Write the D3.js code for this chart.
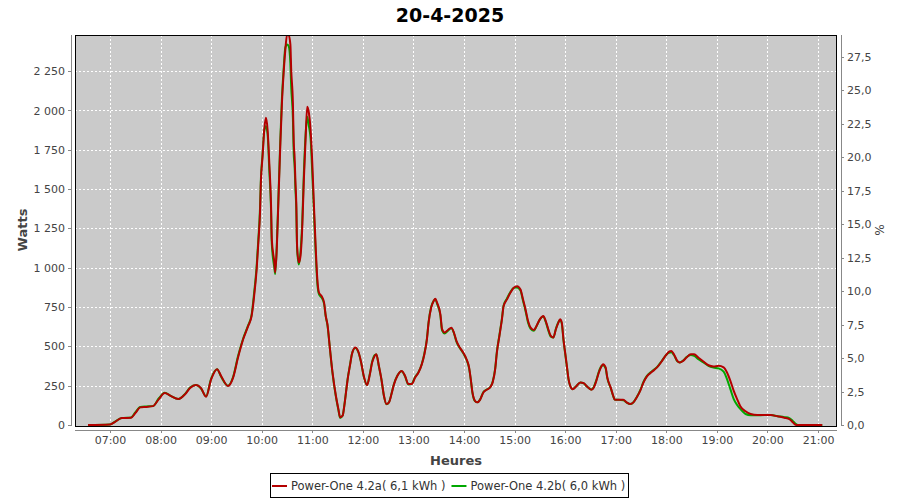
<!DOCTYPE html>
<html><head><meta charset="utf-8">
<script src="https://cdn.jsdelivr.net/npm/d3@7"></script>
<style>
body{margin:0;background:#fff}
svg{display:block}
text{font-family:"DejaVu Sans",sans-serif}
</style>
</head><body>
<svg id="c" width="900" height="500"></svg>
<script>
// ---------- DATA ----------
const chartTitle = "20-4-2025";
const seriesNames = ["Power-One 4.2a( 6,1 kWh )", "Power-One 4.2b( 6,0 kWh )"];
const times = [
"06:34","07:00","07:06","07:14","07:25","07:30","07:36","07:43","07:51","07:58",
"08:05","08:12","08:21","08:29","08:35","08:42","08:48","08:54","09:00","09:07",
"09:12","09:20","09:26","09:32","09:38","09:44","09:48","09:51","09:54","09:56",
"09:58","09:59","10:01","10:03","10:05","10:07","10:09","10:11","10:12","10:15",
"10:16","10:18","10:20","10:22","10:24","10:26","10:28","10:30","10:32","10:34",
"10:35","10:37","10:38","10:39","10:40","10:41","10:42","10:44","10:46","10:48",
"10:50","10:52","10:54","10:56","10:58","11:00","11:02","11:04","11:06","11:08",
"11:11","11:14","11:16","11:18","11:21","11:24","11:28","11:31","11:33","11:36",
"11:38","11:40","11:42","11:45","11:47","11:51","11:55","11:58","12:01","12:05",
"12:08","12:11","12:14","12:16","12:19","12:22","12:25","12:28","12:31","12:34",
"12:37","12:41","12:46","12:50","12:54","12:58","13:02","13:06","13:10","13:13",
"13:16","13:18","13:21","13:24","13:26","13:28","13:32","13:34","13:37","13:41",
"13:45","13:48","13:51","13:55","13:59","14:03","14:06","14:08","14:10","14:13",
"14:16","14:19","14:23","14:27","14:31","14:34","14:37","14:39","14:42","14:45",
"14:47","14:51","14:55","14:59","15:03","15:07","15:10","15:13","15:16","15:19",
"15:23","15:26","15:30","15:34","15:37","15:40","15:43","15:46","15:49","15:52",
"15:54","15:56","15:58","16:00","16:02","16:04","16:06","16:09","16:13","16:18",
"16:22","16:26","16:31","16:34","16:37","16:40","16:43","16:45","16:48","16:50",
"16:54","16:57","16:59","17:03","17:09","17:13","17:17","17:21","17:25","17:29",
"17:33","17:37","17:43","17:49","17:55","17:59","18:03","18:06","18:09","18:13",
"18:16","18:20","18:24","18:29","18:33","18:38","18:44","18:50","18:56","19:02",
"19:08","19:12","19:16","19:20","19:24","19:28","19:34","19:40","19:48","19:56",
"20:04","20:12","20:20","20:26","20:30","20:34","20:36","21:05"
];
const powerA = [
0,3,20,44,46,75,112,115,120,165,
203,185,165,195,235,254,235,180,290,355,
310,248,300,431,545,630,693,820,989,1160,
1350,1540,1707,1876,1953,1876,1667,1414,1179,1033,
970,1137,1454,1770,2048,2238,2384,2480,2480,2420,
2257,2048,1800,1707,1550,1414,1137,1033,1073,1243,
1560,1813,2024,1984,1876,1667,1390,1137,926,841,
820,778,693,640,482,334,186,101,49,59,
122,207,292,387,450,493,461,397,313,254,
313,397,439,450,376,292,186,133,144,197,
260,313,344,313,260,260,302,334,387,450,
545,651,746,788,803,778,704,609,588,604,
619,588,535,493,461,418,366,292,207,154,
144,160,207,224,239,271,355,461,566,672,
756,799,841,873,883,862,799,735,661,619,
604,630,672,693,661,609,566,556,609,651,
672,651,545,461,376,292,249,228,245,271,
266,245,224,239,281,334,372,387,366,302,
239,186,160,160,160,144,133,144,176,217,
271,309,338,366,408,439,465,471,450,408,
397,408,429,450,450,429,404,380,372,376,
366,334,281,217,165,118,87,70,63,63,
63,55,46,38,17,0,0,0
];
const powerB = [
0,3,22,44,48,80,115,118,120,170,
205,185,165,198,238,254,232,182,295,355,
305,250,305,440,550,635,700,840,1010,1180,
1380,1560,1720,1870,1900,1850,1620,1380,1150,1000,
960,1160,1480,1800,2080,2260,2400,2420,2410,2300,
2150,1950,1720,1650,1500,1380,1120,1020,1100,1280,
1600,1840,1960,1900,1820,1600,1350,1100,900,830,
810,770,690,635,480,330,180,95,45,60,
125,210,295,390,452,490,458,395,310,255,
318,402,445,448,372,290,185,132,145,200,
262,315,342,310,258,262,305,336,390,455,
550,655,750,790,800,772,695,600,582,600,
615,585,530,490,458,415,362,290,205,152,
144,162,210,226,240,275,360,466,572,678,
760,805,845,872,875,855,790,725,650,612,
600,628,672,690,655,602,562,556,612,655,
668,645,540,455,372,290,248,228,246,270,
264,244,226,242,286,340,375,380,360,298,
236,184,160,160,158,142,133,145,178,220,
275,312,342,368,410,440,460,462,445,405,
398,410,432,445,439,418,398,376,365,360,
340,292,228,165,127,101,70,62,62,63,
63,56,50,44,26,5,0,0
];
const wattTicks = [0,250,500,750,1000,1250,1500,1750,2000,2250];
const pctTicks = [0,2.5,5,7.5,10,12.5,15,17.5,20,22.5,25,27.5];
const hourTicks = ["07:00","08:00","09:00","10:00","11:00","12:00","13:00","14:00","15:00","16:00","17:00","18:00","19:00","20:00","21:00"];
const timeDomain = ["06:18:30","21:22:30"];
const wattDomain = [0, 2480];
const pctDomain = [0, 29.13];
const axisTitles = {y: "Watts", x: "Heures", y2: "%"};

// ---------- CHART ----------
const svg = d3.select("#c");
const L = 75, R = 837, T = 35, B = 426;
const parseHM = d3.timeParse("%H:%M");
const parseHMS = d3.timeParse("%H:%M:%S");
const loc = d3.formatLocale({decimal: ",", thousands: " ", grouping: [3], currency: ["", ""]});

const x = d3.scaleTime().domain(timeDomain.map(parseHMS)).range([L, R]);
const y = d3.scaleLinear().domain(wattDomain).range([B - 1, T]);
const yP = d3.scaleLinear().domain(pctDomain).range([B - 1, T]);

// title
svg.append("text").attr("x", 450).attr("y", 22).attr("text-anchor", "middle")
  .style("font-size", "19px").style("font-weight", "bold").attr("fill", "#000").text(chartTitle);

// plot background
svg.append("rect").attr("x", L).attr("y", T).attr("width", R - L).attr("height", B - T).attr("fill", "#cacaca");

// grid
const grid = svg.append("g").attr("shape-rendering", "crispEdges")
  .attr("stroke", "#fff").attr("stroke-width", 1).attr("stroke-dasharray", "2,2");
grid.selectAll("line.h").data(wattTicks.filter(d => d > 0)).join("line")
  .attr("x1", L).attr("x2", R).attr("y1", d => Math.round(y(d)) + 0.5).attr("y2", d => Math.round(y(d)) + 0.5);
grid.selectAll("line.v").data(hourTicks.map(parseHM)).join("line")
  .attr("y1", T).attr("y2", B).attr("x1", d => Math.round(x(d)) + 0.5).attr("x2", d => Math.round(x(d)) + 0.5);

// clip
svg.append("clipPath").attr("id", "clip").append("rect").attr("x", L).attr("y", T).attr("width", R - L).attr("height", B - T);

const pts = times.map(parseHM);
const line = vals => d3.line().x((d, i) => x(pts[i])).y(d => y(d)).curve(d3.curveMonotoneX)(vals);
const plotG = svg.append("g").attr("clip-path", "url(#clip)");
plotG.append("path").attr("d", line(powerB)).attr("fill", "none").attr("stroke", "#00a800").attr("stroke-width", 2);
plotG.append("path").attr("d", line(powerA)).attr("fill", "none").attr("stroke", "#b40000").attr("stroke-width", 2);

// border
svg.append("rect").attr("x", L + 0.5).attr("y", T + 0.5).attr("width", R - L - 1).attr("height", B - T)
  .attr("fill", "none").attr("stroke", "#000").attr("stroke-width", 1).attr("shape-rendering", "crispEdges");

function styleAxis(g) {
  g.attr("shape-rendering", "crispEdges");
  g.select(".domain").attr("stroke", "#888");
  g.selectAll(".tick line").attr("stroke", "#888");
  g.selectAll(".tick text").attr("fill", "#444").style("font-size", "11px").style("font-family", "DejaVu Sans");
}

// left axis
const gl = svg.append("g").attr("transform", "translate(71,0)")
  .call(d3.axisLeft(y).tickValues(wattTicks).tickFormat(loc.format(",d")).tickSize(3).tickSizeOuter(0).tickPadding(3));
styleAxis(gl);
gl.select(".domain").attr("d", `M0.5,${T}V${B}`);

// right axis
const gr = svg.append("g").attr("transform", "translate(841,0)")
  .call(d3.axisRight(yP).tickValues(pctTicks).tickFormat(loc.format(".1f")).tickSize(3).tickSizeOuter(0).tickPadding(3));
styleAxis(gr);
gr.select(".domain").attr("d", `M0.5,${T}V${B}`);

// bottom axis
const gb = svg.append("g").attr("transform", "translate(0,430)")
  .call(d3.axisBottom(x).tickValues(hourTicks.map(parseHM)).tickFormat(d3.timeFormat("%H:%M")).tickSize(3).tickSizeOuter(0).tickPadding(3));
styleAxis(gb);
gb.select(".domain").attr("d", `M${L},0.5H${R}`);

// axis titles
svg.append("text").attr("transform", "translate(22,230) rotate(-90)").attr("text-anchor", "middle").attr("dy", "0.35em")
  .style("font-size", "13px").style("font-weight", "bold").attr("fill", "#444").text(axisTitles.y);
svg.append("text").attr("x", (L + R) / 2).attr("y", 465).attr("text-anchor", "middle")
  .style("font-size", "13px").style("font-weight", "bold").attr("fill", "#444").text(axisTitles.x);
svg.append("text").attr("transform", "translate(879,230) rotate(90)").attr("text-anchor", "middle").attr("dy", "0.35em")
  .style("font-size", "12px").attr("fill", "#444").text(axisTitles.y2);

// legend
const colors = ["#b40000", "#00a800"];
const lg = svg.append("g");
const box = lg.append("rect").attr("fill", "#fff").attr("stroke", "#000").attr("shape-rendering", "crispEdges");
let cx = 272;
seriesNames.forEach((name, i) => {
  lg.append("line").attr("x1", cx).attr("x2", cx + 15).attr("y1", 486).attr("y2", 486)
    .attr("stroke", colors[i]).attr("stroke-width", 2);
  const t = lg.append("text").attr("x", cx + 19).attr("y", 490).style("font-size", "11.5px").attr("fill", "#333").text(name);
  cx += 19 + t.node().getComputedTextLength() + 6;
});
box.attr("x", 270.5).attr("y", 473.5).attr("width", cx - 270 - 3).attr("height", 24);
</script>
</body></html>
